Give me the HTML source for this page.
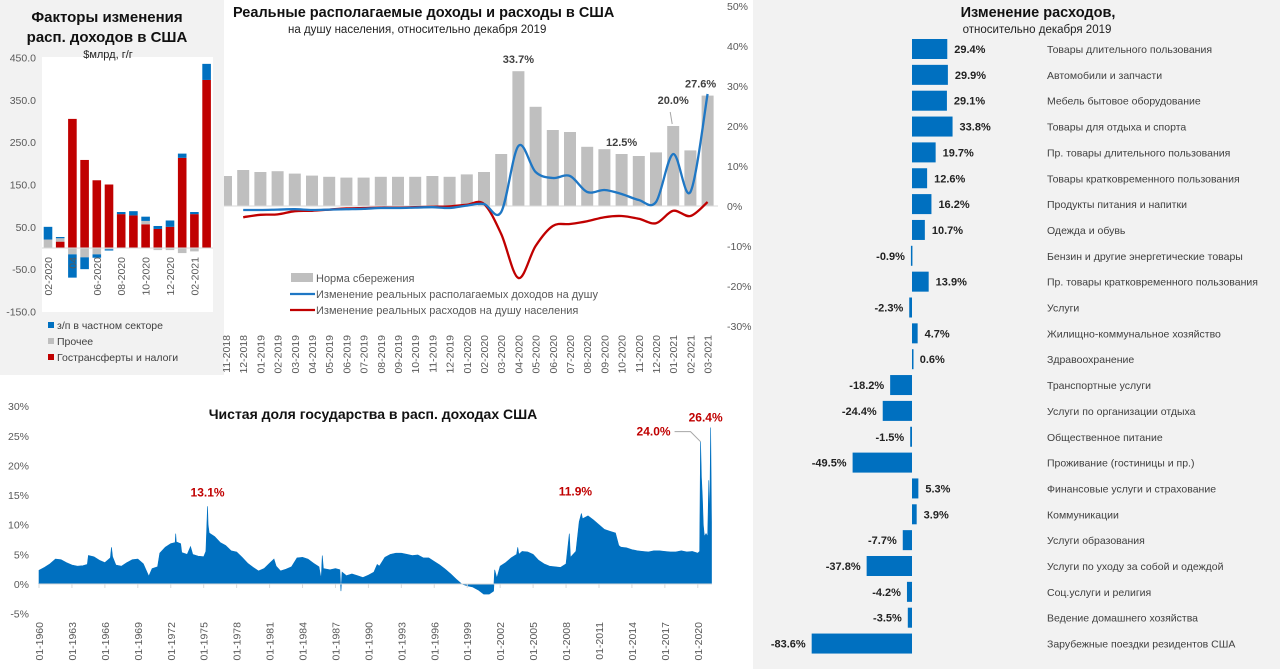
<!DOCTYPE html>
<html><head><meta charset="utf-8">
<style>
html,body{margin:0;padding:0;background:#fff;}
svg{display:block;font-family:"Liberation Sans","Noto Sans CJK SC",sans-serif;}
</style></head>
<body>
<svg id="s" width="1280" height="669" viewBox="0 0 1280 669" xmlns="http://www.w3.org/2000/svg">
<rect x="0" y="0" width="1280" height="669" fill="#fff"/>
<rect x="0" y="0" width="224" height="375" fill="#f2f2f2"/>
<rect x="42" y="57" width="171" height="255" fill="#fff"/>
<rect x="753" y="0" width="527" height="669" fill="#f2f2f2"/>
<g id="left"></g>
<g id="mid"></g>
<g id="right"></g>
<g id="bot"></g>
</svg>
<script>
// ---------- Left chart data ----------
const lMonths = ["02-2020","03-2020","04","05-2020","06-2020","07-2020","08-2020","09-2020","10-2020","11-2020","12-2020","01-2021","02-2021","03-2021"];
const lWages = [30,3,-55,-28,-8,-3,5,10,10,7,15,10,5,38];
const lOther = [20,8,-15,-22,-15,-3,0,0,8,-5,-5,-12,-8,0];
const lTransfers = [0,15,305,208,160,150,80,77,56,45,50,213,80,397];
const lTicks = [450,350,250,150,50,-50,-150];

// ---------- Middle chart data ----------
const mMonths = ["11-2018","12-2018","01-2019","02-2019","03-2019","04-2019","05-2019","06-2019","07-2019","08-2019","09-2019","10-2019","11-2019","12-2019","01-2020","02-2020","03-2020","04-2020","05-2020","06-2020","07-2020","08-2020","09-2020","10-2020","11-2020","12-2020","01-2021","02-2021","03-2021"];
const mSaving = [7.5,9.0,8.5,8.7,8.1,7.6,7.3,7.1,7.1,7.3,7.3,7.3,7.5,7.3,7.9,8.5,13.0,33.7,24.8,19.0,18.5,14.8,14.2,13.0,12.5,13.4,20.0,13.9,27.6];
const mIncome = [null,-1.0,-1.0,-0.9,-0.8,-1.0,-0.9,-0.8,-0.7,-0.5,-0.5,-0.4,-0.3,-0.5,0.1,0.5,-1.5,15.0,8.5,7.0,7.5,3.5,4.0,3.0,1.5,1.0,13.0,3.5,28.0];
const mSpend = [null,-2.8,-2.2,-2.1,-1.3,-1.2,-0.9,-0.6,-0.5,-0.4,-0.4,-0.3,-0.2,-0.1,0.3,0.5,-7.0,-18.0,-10.0,-5.0,-4.5,-3.8,-2.8,-2.5,-3.2,-4.3,-1.2,-2.5,1.0];
const mTicks = [50,40,30,20,10,0,-10,-20,-30];
const mLabelIdx = [17,23,26,28];
const mLabelTxt = ["33.7%","12.5%","20.0%","27.6%"];

// ---------- Right chart data ----------
const rCats = ["Товары длительного пользования","Автомобили и запчасти","Мебель бытовое оборудование","Товары для отдыха и спорта","Пр. товары длительного пользования","Товары кратковременного пользования","Продукты питания и напитки","Одежда и обувь","Бензин и другие энергетические товары","Пр. товары кратковременного пользования","Услуги","Жилищно-коммунальное хозяйство","Здравоохранение","Транспортные услуги","Услуги по организации отдыха","Общественное питание","Проживание (гостиницы и пр.)","Финансовые услуги и страхование","Коммуникации","Услуги образования","Услуги по уходу за собой и одеждой","Соц.услуги и религия","Ведение домашнего хозяйства","Зарубежные поездки резидентов США"];
const rVals = [29.4,29.9,29.1,33.8,19.7,12.6,16.2,10.7,-0.9,13.9,-2.3,4.7,0.6,-18.2,-24.4,-1.5,-49.5,5.3,3.9,-7.7,-37.8,-4.2,-3.5,-83.6];

// ---------- Bottom chart data ----------
const gDates = [1960.0,1960.5,1961.0,1961.5,1962.0,1962.5,1963.0,1963.5,1964.0,1964.4,1964.5,1965.0,1965.5,1966.0,1966.5,1966.6,1966.7,1967.0,1967.5,1968.0,1968.5,1969.0,1969.5,1970.0,1970.3,1970.8,1971.0,1971.5,1972.0,1972.4,1972.45,1972.5,1972.9,1973.0,1973.5,1973.8,1974.0,1974.5,1975.0,1975.2,1975.35,1975.4,1975.5,1976.0,1976.5,1977.0,1977.5,1978.0,1978.5,1979.0,1979.5,1980.0,1980.5,1981.0,1981.4,1981.6,1982.0,1982.5,1983.0,1983.5,1984.0,1984.5,1985.0,1985.5,1985.7,1985.8,1985.9,1986.5,1987.0,1987.4,1987.5,1987.6,1988.0,1988.5,1989.0,1989.5,1990.0,1990.5,1990.8,1991.0,1991.5,1992.0,1992.5,1993.0,1993.5,1994.0,1994.5,1995.0,1995.5,1996.0,1996.5,1997.0,1997.5,1998.0,1998.5,1999.0,1999.5,2000.0,2000.5,2001.0,2001.4,2001.5,2001.7,2002.0,2002.5,2003.0,2003.5,2003.6,2003.7,2004.0,2004.5,2005.0,2005.5,2006.0,2006.5,2007.0,2007.5,2008.0,2008.3,2008.4,2008.9,2009.2,2009.4,2009.5,2010.0,2010.5,2011.0,2011.5,2012.0,2012.5,2012.8,2013.0,2013.5,2014.0,2014.5,2015.0,2015.5,2016.0,2016.5,2017.0,2017.5,2018.0,2018.5,2019.0,2019.5,2020.0,2020.17,2020.25,2020.33,2020.42,2020.5,2020.6,2020.75,2020.9,2021.0,2021.08,2021.17,2021.25];
const gVals = [2.3,2.8,3.4,4.2,4.1,3.6,3.2,3.0,3.1,3.3,4.8,4.6,4.0,3.6,4.4,6.2,4.6,3.2,3.0,3.6,4.1,4.2,3.4,1.3,2.6,2.9,5.2,6.2,6.8,7.0,8.5,7.1,6.8,5.3,5.0,6.3,5.0,4.7,4.6,5.5,13.1,10.0,8.6,8.0,7.0,6.5,5.6,5.4,4.5,3.5,2.8,2.2,2.6,3.5,4.2,3.0,2.2,2.5,2.9,4.4,4.5,4.2,3.5,2.9,0.8,4.8,2.6,2.4,2.6,2.4,-1.2,2.0,1.4,1.7,1.4,1.1,1.5,2.0,3.3,3.0,4.5,5.0,5.2,5.2,5.0,4.8,4.9,4.4,4.4,3.8,3.2,2.5,1.7,0.8,0.0,-0.3,-0.5,-1.0,-1.7,-1.7,-1.2,2.4,1.0,3.0,3.6,4.4,5.0,6.2,5.0,5.5,5.4,5.0,4.0,3.4,3.0,2.9,2.8,3.4,8.5,4.5,5.5,10.5,11.9,11.0,11.5,10.8,10.0,9.2,8.9,8.6,6.5,6.2,6.1,5.8,5.6,5.5,5.4,5.6,5.6,5.5,5.4,5.4,5.6,5.4,5.5,5.2,5.5,24.0,18.0,14.5,10.0,8.0,8.5,8.0,17.5,10.0,26.4,10.5];
const gTicks = [30,25,20,15,10,5,0,-5];
const gYearLabels = [1960,1963,1966,1969,1972,1975,1978,1981,1984,1987,1990,1993,1996,1999,2002,2005,2008,2011,2014,2017,2020];

const NS = "http://www.w3.org/2000/svg";
function mk(parent, tag, attrs, txt){
  const e = document.createElementNS(NS, tag);
  for (const k in attrs) e.setAttribute(k, attrs[k]);
  if (txt !== undefined) e.textContent = txt;
  parent.appendChild(e);
  return e;
}
function smooth(pts){
  let d = "M" + pts[0][0] + "," + pts[0][1];
  for (let i = 0; i < pts.length - 1; i++){
    const p0 = pts[i-1] || pts[i], p1 = pts[i], p2 = pts[i+1], p3 = pts[i+2] || p2;
    const c1x = p1[0] + (p2[0]-p0[0])/6, c1y = p1[1] + (p2[1]-p0[1])/6;
    const c2x = p2[0] - (p3[0]-p1[0])/6, c2y = p2[1] - (p3[1]-p1[1])/6;
    d += " C" + c1x + "," + c1y + " " + c2x + "," + c2y + " " + p2[0] + "," + p2[1];
  }
  return d;
}

// ================= LEFT =================
(function(){
  const g = document.getElementById("left");
  const ly = v => 248 - v*0.4233;
  const lx = i => 48 + i*12.2;
  let t;
  t = mk(g,"text",{x:107,y:22,"text-anchor":"middle","font-size":"15","font-weight":"bold",fill:"#111"},"Факторы изменения");
   
  t = mk(g,"text",{x:107,y:42,"text-anchor":"middle","font-size":"15","font-weight":"bold",fill:"#111"},"расп. доходов в США");
   
  t = mk(g,"text",{x:108,y:58,"text-anchor":"middle","font-size":"11",fill:"#222"},"$млрд, г/г");
   
  lTicks.forEach(v=>{
    const e = mk(g,"text",{x:36,y:ly(v)+4,"text-anchor":"end","font-size":"10.5",fill:"#595959"},v.toFixed(1));
     
  });
  const bw = 8.6;
  lMonths.forEach((m,i)=>{
    const x = lx(i) - bw/2;
    let pos = 0, neg = 0;
    [[lTransfers[i],"#c00000"],[lOther[i],"#bfbfbf"],[lWages[i],"#0070c0"]].forEach(([v,c])=>{
      if (v === 0) return;
      let y0, y1;
      if (v > 0){ y0 = pos; y1 = pos + v; pos = y1; } else { y0 = neg; y1 = neg + v; neg = y1; }
      const r = mk(g,"rect",{x:x,y:Math.min(ly(y0),ly(y1)),width:bw,height:Math.abs(ly(y1)-ly(y0)),fill:c});
       
    });
    if (i % 2 === 0){
      const lab = mk(g,"text",{x:0,y:0,"text-anchor":"end","font-size":"10.5",fill:"#595959",transform:"translate("+(lx(i)+4)+",257) rotate(-90)"},m);
       
    }
  });
  const ax = mk(g,"line",{x1:42,x2:213,y1:ly(0),y2:ly(0),stroke:"#d9d9d9","stroke-width":1});
   
  [["з/п в частном секторе","#0070c0",329],["Прочее","#bfbfbf",345],["Гострансферты и налоги","#c00000",361]].forEach(([n,c,y])=>{
    const s = mk(g,"rect",{x:48,y:y-7,width:6,height:6,fill:c});
     
    const tt = mk(g,"text",{x:57,y:y,"font-size":"10.5",fill:"#404040"},n);
     
  });
})();

// ================= MIDDLE =================
(function(){
  const g = document.getElementById("mid");
  const my = v => 206 - v*4.0;
  const mx = i => 226 + i*17.2;
  let t;
  t = mk(g,"text",{x:233,y:17,"font-size":"14.5","font-weight":"bold",fill:"#111"},"Реальные располагаемые доходы и расходы в США");
   
  t = mk(g,"text",{x:288,y:33,"font-size":"11.5",fill:"#222"},"на душу населения, относительно декабря 2019");
   
  mTicks.forEach(v=>{
    const e = mk(g,"text",{x:727,y:my(v)+4,"font-size":"10.5",fill:"#595959"},v+"%");
     
  });
  mk(g,"clipPath",{id:"midclip"});
  const cp = document.getElementById("midclip");
  mk(cp,"rect",{x:224,y:0,width:530,height:375});
  const bars = mk(g,"g",{"clip-path":"url(#midclip)"});
   
  mSaving.forEach((v,i)=>{
    const r = mk(bars,"rect",{x:mx(i)-6,y:my(v),width:12,height:my(0)-my(v),fill:"#bfbfbf"});
     
    const lab = mk(g,"text",{x:0,y:0,"text-anchor":"end","font-size":"10.5",fill:"#595959",transform:"translate("+(mx(i)+4)+",335) rotate(-90)"},mMonths[i]);
     
  });
  const ax = mk(g,"line",{x1:224,x2:718,y1:my(0),y2:my(0),stroke:"#d9d9d9","stroke-width":1});
   
  function line(arr,color,name){
    const pts = [];
    arr.forEach((v,i)=>{ if (v !== null) pts.push([mx(i),my(v)]); });
    const p = mk(g,"path",{d:smooth(pts),fill:"none",stroke:color,"stroke-width":2.3});
     
  }
  line(mSpend,"#c00000","spending-line");
  line(mIncome,"#1f77c4","income-line");
  mLabelIdx.forEach((idx,k)=>{
    const dy = idx === 26 ? -22 : -8;
    const e = mk(g,"text",{x:mx(idx)-(idx===28?7:0),y:my(mSaving[idx])+dy,"text-anchor":"middle","font-size":"11","font-weight":"bold",fill:"#404040"},mLabelTxt[k]);
     
    if (idx === 26){
      const l = mk(g,"line",{x1:mx(idx)-1,y1:my(mSaving[idx])-2,x2:mx(idx)-3,y2:my(mSaving[idx])-14,stroke:"#a6a6a6"});
       
    }
  });
  const s = mk(g,"rect",{x:291,y:273,width:22,height:9,fill:"#bfbfbf"});
   
  [["Норма сбережения",282],["Изменение реальных располагаемых доходов на душу",298],["Изменение реальных расходов на душу населения",314]].forEach(([n,y])=>{
    const e = mk(g,"text",{x:316,y:y,"font-size":"11",fill:"#595959"},n);
     
  });
  let l1 = mk(g,"line",{x1:290,x2:315,y1:294,y2:294,stroke:"#1f77c4","stroke-width":2.3});
   
  let l2 = mk(g,"line",{x1:290,x2:315,y1:310,y2:310,stroke:"#c00000","stroke-width":2.3});
   
})();

// ================= RIGHT =================
(function(){
  const g = document.getElementById("right");
  const rx = v => 912 + v*1.2;
  const ry = i => 49 + i*25.85;
  let t;
  t = mk(g,"text",{x:1038,y:17,"text-anchor":"middle","font-size":"14.5","font-weight":"bold",fill:"#111"},"Изменение расходов,");
   
  t = mk(g,"text",{x:1037,y:33,"text-anchor":"middle","font-size":"11.5",fill:"#222"},"относительно декабря 2019");
   
  rVals.forEach((v,i)=>{
    const x0 = Math.min(rx(0),rx(v)), w = Math.max(Math.abs(rx(v)-rx(0)),1.5);
    const r = mk(g,"rect",{x:x0,y:ry(i)-10,width:w,height:20,fill:"#0070c0"});
     
    const lx = v >= 0 ? rx(v)+7 : rx(v)-6;
    const e = mk(g,"text",{x:lx,y:ry(i)+4,"text-anchor":v>=0?"start":"end","font-size":"11","font-weight":"bold",fill:"#222"},v.toFixed(1)+"%");
     
    const c = mk(g,"text",{x:1047,y:ry(i)+4,"font-size":"10.5",fill:"#404040"},rCats[i]);
     
  });
})();

// ================= BOTTOM =================
(function(){
  const g = document.getElementById("bot");
  const gy = v => 584 - v*5.93;
  const gx = yr => 39 + (yr-1960)*10.98;
  let t = mk(g,"text",{x:373,y:419,"text-anchor":"middle","font-size":"14","font-weight":"bold",fill:"#111"},"Чистая доля государства в расп. доходах США");
   
  gTicks.forEach(v=>{
    const e = mk(g,"text",{x:29,y:gy(v)+4,"text-anchor":"end","font-size":"10.5",fill:"#595959"},v+"%");
     
  });
  let d = "M" + gx(gDates[0]) + "," + gy(0);
  gDates.forEach((yr,i)=>{ d += " L" + gx(yr) + "," + gy(gVals[i]); });
  d += " L" + gx(gDates[gDates.length-1]) + "," + gy(0) + " Z";
  const a = mk(g,"path",{d:d,fill:"#0070c0",stroke:"#0070c0","stroke-width":0.6});
   
  const ax = mk(g,"line",{x1:39,x2:712,y1:gy(0),y2:gy(0),stroke:"#d9d9d9","stroke-width":1});
   
  gYearLabels.forEach(yr=>{
    const tk = mk(g,"line",{x1:gx(yr),x2:gx(yr),y1:gy(0),y2:gy(0)+4,stroke:"#d9d9d9"});
     
    const e = mk(g,"text",{x:0,y:0,"text-anchor":"end","font-size":"10.5",fill:"#595959",transform:"translate("+(gx(yr)+4)+",622) rotate(-90)"},"01-"+yr);
     
  });
  [["13.1%",1975.35,0,-10],["11.9%",2009.4,-6,-18],["24.0%",2020.25,-47,-6],["26.4%",2021.17,-5,-6]].forEach(([s,yr,dx,dy],k)=>{
    const v = gVals[gDates.indexOf(yr)];
    const e = mk(g,"text",{x:gx(yr)+dx,y:gy(v)+dy,"text-anchor":"middle","font-size":"12","font-weight":"bold",fill:"#c00000"},s);
     
  });
  const ll = mk(g,"polyline",{points:(gx(2020.25)-26)+","+(gy(24)-10)+" "+(gx(2020.25)-10)+","+(gy(24)-10)+" "+gx(2020.25)+","+gy(24),fill:"none",stroke:"#a6a6a6"});
   
})();
</script>
</body></html>
